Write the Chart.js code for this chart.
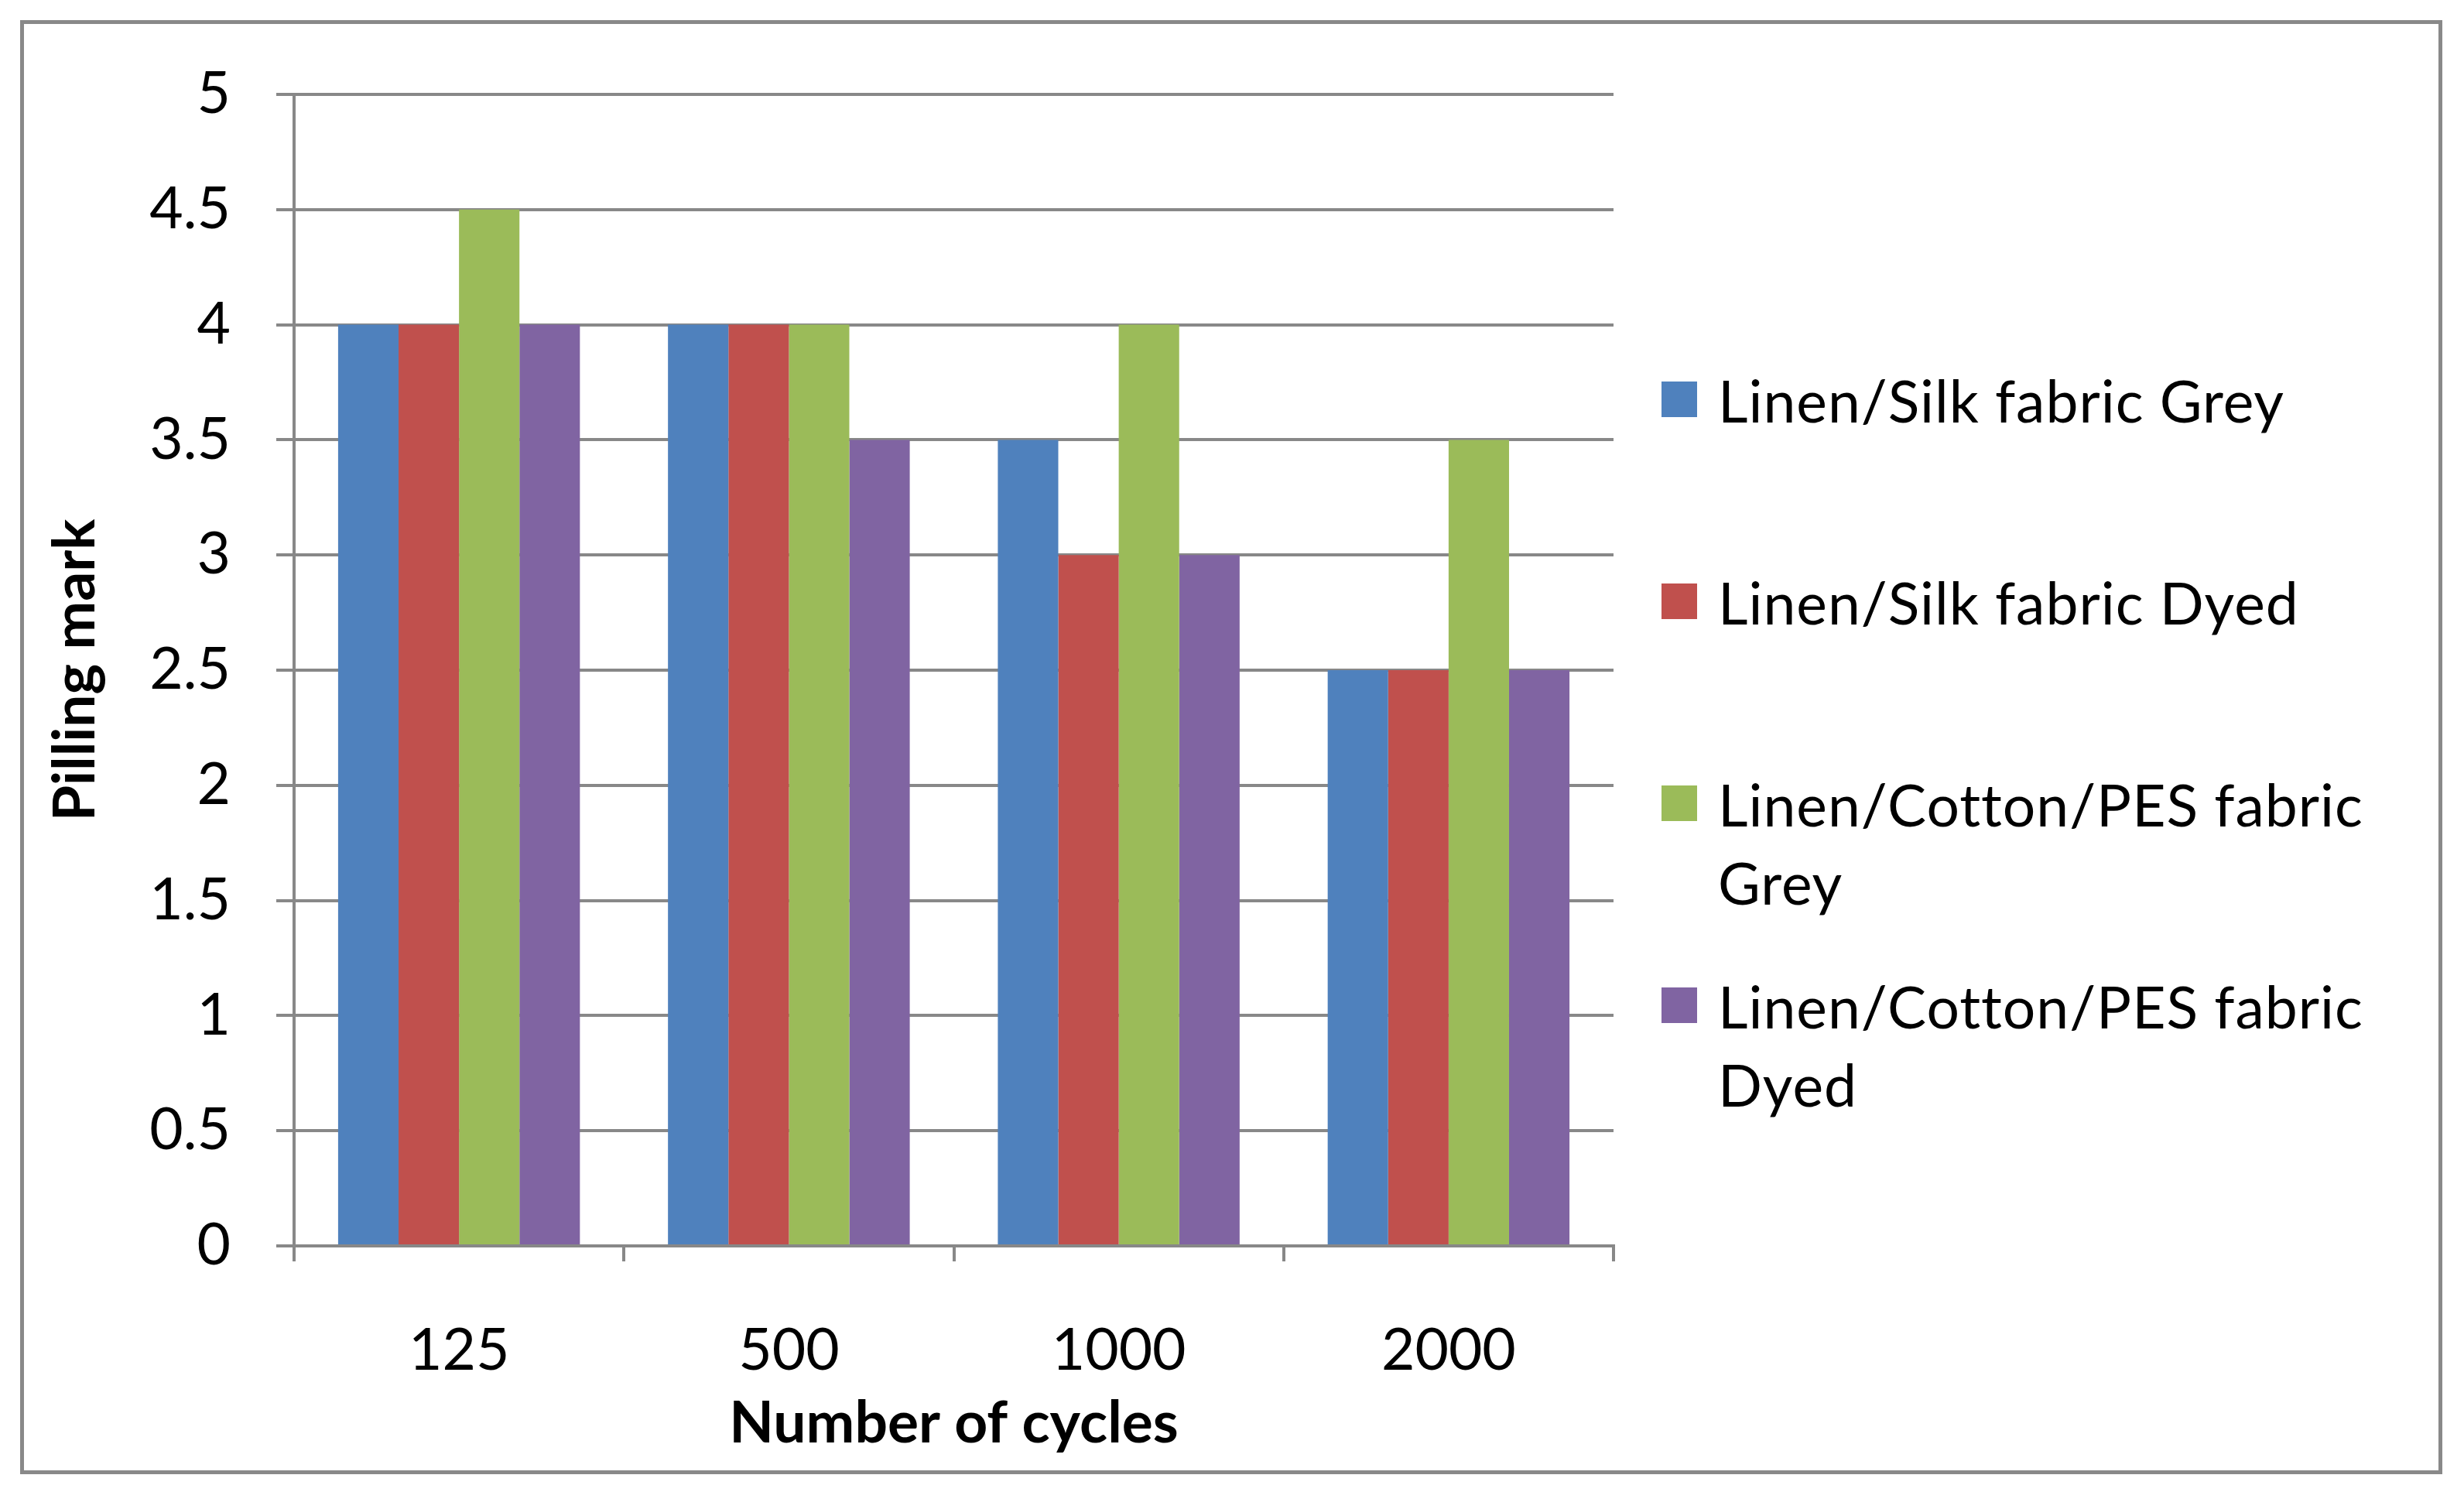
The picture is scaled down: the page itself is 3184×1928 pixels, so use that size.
<!DOCTYPE html>
<html>
<head>
<meta charset="utf-8">
<title>Pilling mark vs number of cycles</title>
<script src="https://cdn.jsdelivr.net/npm/chart.js@4.4.1/dist/chart.umd.min.js"></script>
<style>
  html, body { margin: 0; padding: 0; background: #fff; overflow: hidden; }
  #wrap { position: relative; width: 3184px; height: 1928px; }
  #frame { position: absolute; left: 26px; top: 26px; width: 3120px; height: 1869px;
           border: 5px solid #898989; pointer-events: none; }
  #legend { position: absolute; left: 2147px; top: 467px; width: 980px;
            font-family: Lato, sans-serif; font-size: 75px; line-height: 101px;
            letter-spacing: 1px; color: #000; }
  .item { display: flex; align-items: flex-start; height: 261px; }
  .box { width: 46px; height: 46px; margin-top: 26px; margin-right: 27px; flex: none; }
  .txt { width: 880px; }
</style>
</head>
<body>
<div id="wrap">
  <canvas id="chart"></canvas>
  <div id="frame"></div>
  <div id="legend"></div>
</div>
<script>
// --- data ---
const cycles = ['125', '500', '1000', '2000'];
const seriesNames = [
  'Linen/Silk fabric Grey',
  'Linen/Silk fabric Dyed',
  'Linen/Cotton/PES fabric Grey',
  'Linen/Cotton/PES fabric Dyed'
];
const silkGrey   = [4,   4,   3.5, 2.5];
const silkDyed   = [4,   4,   3,   2.5];
const cottonGrey = [4.5, 4,   4,   3.5];
const cottonDyed = [4,   3.5, 3,   2.5];
const colors = ['#4F81BD', '#C0504D', '#9BBB59', '#8064A2'];

const gridColor = '#888888';
const font = { family: 'Lato, sans-serif', size: 75 };
const boldFont = { family: 'Lato, sans-serif', size: 75, weight: 'bold' };

const values = [silkGrey, silkDyed, cottonGrey, cottonDyed];

const chart = new Chart(document.getElementById('chart'), {
  type: 'bar',
  data: {
    labels: cycles,
    datasets: values.map((v, i) => ({
      label: seriesNames[i],
      data: v,
      backgroundColor: colors[i],
      borderWidth: 0,
      categoryPercentage: 0.733,
      barPercentage: 1
    }))
  },
  options: {
    responsive: true,
    maintainAspectRatio: false,
    animation: false,
    layout: { padding: { left: 40, top: 122, right: 1099, bottom: 20 } },
    plugins: { legend: { display: false }, tooltip: { enabled: false } },
    scales: {
      x: {
        afterFit: s => { s.height = 298; },
        grid: { display: true, drawOnChartArea: false, drawTicks: true, tickLength: 20,
                color: gridColor, lineWidth: 4, offset: true },
        border: { display: true, color: gridColor, width: 4 },
        ticks: { color: '#000', font: font, padding: 71, maxRotation: 0 },
        title: { display: true, text: 'Number of cycles', color: '#000', font: boldFont,
                 padding: { top: 0, bottom: 23 } }
      },
      y: {
        min: 0,
        max: 5,
        afterFit: s => { s.width = 340; },
        grid: { color: gridColor, lineWidth: 4, tickLength: 23 },
        border: { display: true, color: gridColor, width: 4 },
        ticks: { stepSize: 0.5, color: '#000', font: font, padding: 59,
                 callback: v => String(v) },
        title: { display: true, text: 'Pilling mark', color: '#000', font: boldFont,
                 padding: { top: 13, bottom: 0 } }
      }
    }
  }
});

// --- legend on the right, built from the chart's datasets ---
const legend = document.getElementById('legend');
chart.data.datasets.forEach(ds => {
  const item = document.createElement('div');
  item.className = 'item';
  item.innerHTML = `<div class="box" style="background:${ds.backgroundColor}"></div><div class="txt">${ds.label}</div>`;
  legend.appendChild(item);
});
</script>
</body>
</html>
